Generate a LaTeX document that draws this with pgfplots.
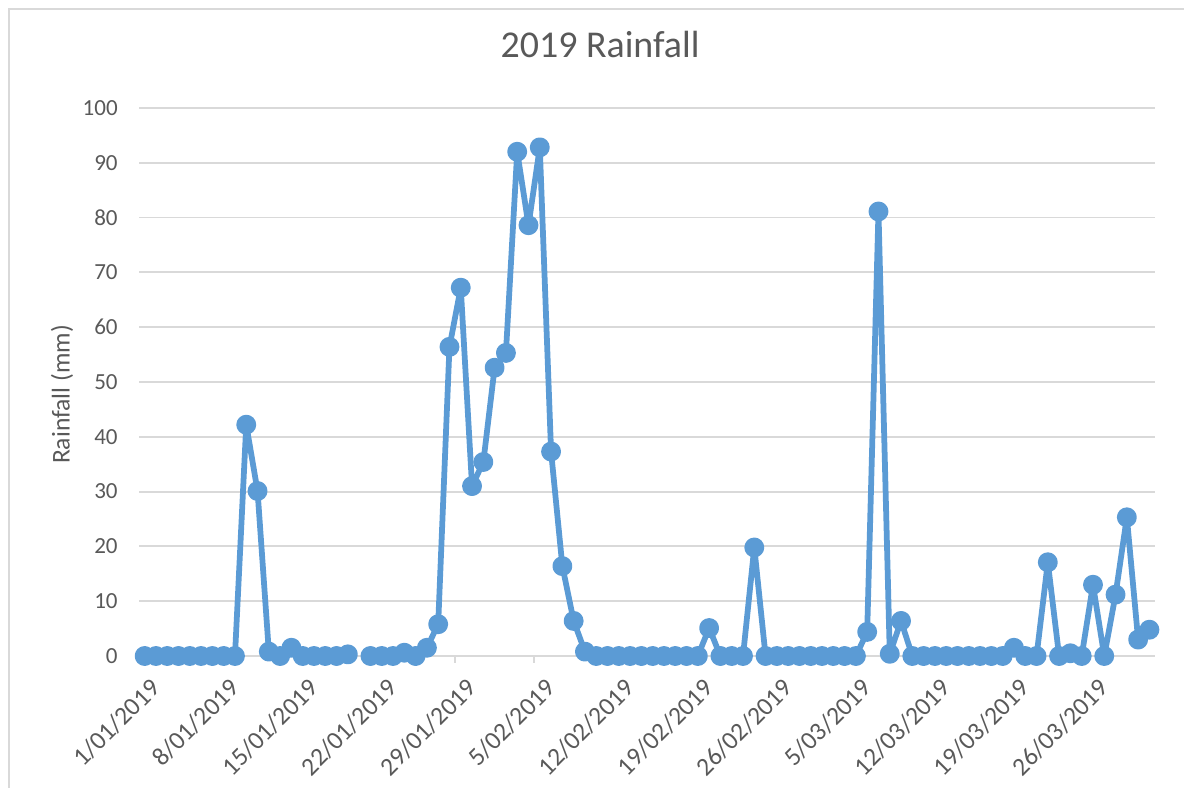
\documentclass[border=0pt]{standalone}
\usepackage{fontspec}
\setmainfont{Carlito}
\usepackage{pgfplots}
\pgfplotsset{compat=1.18}
\definecolor{rain}{HTML}{5B9BD5}
\definecolor{txt}{HTML}{595959}
\definecolor{gridc}{HTML}{D9D9D9}
\begin{document}
\begin{tikzpicture}
\begin{axis}[
  at={(0pt,0pt)}, anchor=south west,
  scale only axis,
  width=396.9pt, height=214.1pt,
  xmin=-0.5, xmax=89.5, ymin=0, ymax=100,
  ytick={0,10,...,100},
  xtick={0.38,7.38,14.38,21.38,28.38,35.38,42.38,49.38,56.38,63.38,70.38,77.38,84.38},
  xticklabels={1/01/2019,8/01/2019,15/01/2019,22/01/2019,29/01/2019,5/02/2019,12/02/2019,19/02/2019,26/02/2019,5/03/2019,12/03/2019,19/03/2019,26/03/2019},
  xtick pos=bottom,
  major tick length=0pt,
  extra x ticks={-0.5,6.5,13.5,20.5,27.5,34.5,41.5,48.5,55.5,62.5,69.5,76.5,83.5},
  extra x tick labels={},
  extra x tick style={major tick length=2.7pt, tick align=outside, tick style={draw=gridc, line width=0.75pt}},
  ymajorgrids, grid style={draw=gridc, line width=0.75pt},
  axis line style={draw=none},
  tick label style={text=txt},
  yticklabel style={font=\fontsize{9}{10}\selectfont, xshift=-4.8pt},
  /pgf/number format/assume math mode=true,
  xticklabel style={font=\fontsize{10}{12}\selectfont, anchor=north east, inner sep=0pt, yshift=-8pt, rotate=45},
  ylabel={Rainfall (mm)},
  ylabel style={at={(axis description cs:-0.0758,0.477)}, anchor=center, font=\fontsize{10}{12}\selectfont, text=txt},
  unbounded coords=jump,
  clip=false,
]
\addplot[rain, line width=2.25pt, line join=round, mark=*, mark size=2.75pt, mark options={solid, fill=rain}] coordinates {
(0,0)(1,0)(2,0)(3,0)(4,0)(5,0)(6,0)(7,0)(8,0)(9,42.2)
(10,30.1)(11,0.8)(12,0)(13,1.5)(14,0)(15,0)(16,0)(17,0)(18,0.3)(19,nan)
(20,0)(21,0)(22,0)(23,0.6)(24,0)(25,1.5)(26,5.8)(27,56.4)(28,67.2)(29,31.0)
(30,35.4)(31,52.6)(32,55.3)(33,92.0)(34,78.6)(35,92.8)(36,37.3)(37,16.4)(38,6.4)(39,0.8)
(40,0)(41,0)(42,0)(43,0)(44,0)(45,0)(46,0)(47,0)(48,0)(49,0)
(50,5.1)(51,0)(52,0)(53,0)(54,19.8)(55,0)(56,0)(57,0)(58,0)(59,0)
(60,0)(61,0)(62,0)(63,0)(64,4.4)(65,81.1)(66,0.4)(67,6.4)(68,0)(69,0)
(70,0)(71,0)(72,0)(73,0)(74,0)(75,0)(76,0)(77,1.5)(78,0)(79,0)
(80,17.1)(81,0)(82,0.5)(83,0)(84,13.0)(85,0)(86,11.2)(87,25.3)(88,3.0)(89,4.8)
};
\end{axis}
\pgfresetboundingbox
\path[use as bounding box] (-54.3pt,-51.2pt) rectangle (408.2pt,256.25pt);
\draw[gridc, line width=0.75pt] (-50.8pt,-60pt) -- (-50.8pt,252.75pt) -- (420pt,252.75pt);
\node[anchor=base, font=\fontsize{14.8}{17}\selectfont, text=txt] at (180.1pt,233.6pt) {2019 Rainfall};
\end{tikzpicture}
\end{document}
